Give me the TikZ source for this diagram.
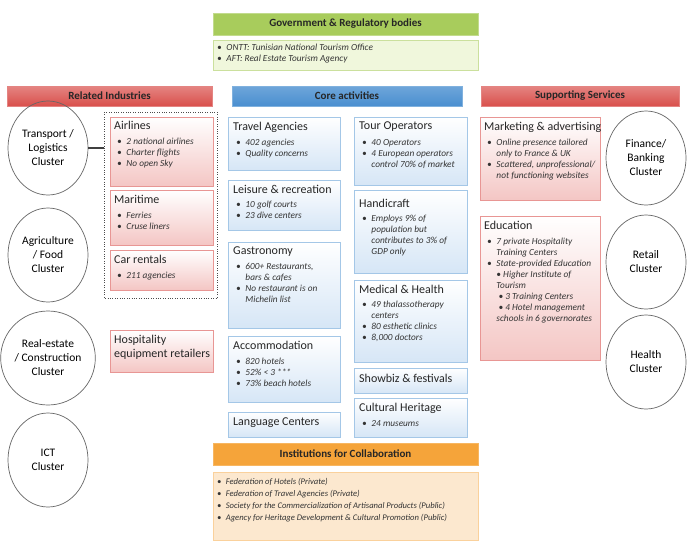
\documentclass[tikz,border=0pt]{standalone}
\usepackage{fontspec}
\setmainfont{Carlito}
\usetikzlibrary{positioning,shapes.geometric}
\definecolor{redh}{HTML}{D9504C}
\definecolor{redb}{HTML}{F4C6C4}
\definecolor{blueh}{HTML}{4A8FD0}
\definecolor{blueb}{HTML}{D6E6F6}
\definecolor{greenh}{HTML}{A8CC5C}
\definecolor{greenb}{HTML}{F0F7DC}
\definecolor{orangeh}{HTML}{F5A43A}
\definecolor{orangeb}{HTML}{FCE8CF}
\begin{document}
\begin{tikzpicture}[x=1pt,y=-1pt,
  hdr/.style={font=\bfseries\fontsize{11}{13}\selectfont, text=black!85},
  rbox/.style={draw=redh!60, top color=white, bottom color=redb, line width=0.6pt},
  bbox/.style={draw=blueh!50, top color=white, bottom color=blueb, line width=0.6pt},
  ttl/.style={anchor=north west, font=\fontsize{12}{13.5}\selectfont, text=black!85, align=left, inner sep=1pt},
  bl/.style={anchor=north west, font=\itshape\fontsize{9.3}{11}\selectfont, text=black!80, align=left, inner sep=1pt},
  clu/.style={draw=black!60, line width=0.7pt, ellipse, minimum width=80pt, minimum height=94pt, align=center, font=\fontsize{11.5}{14}\selectfont, inner sep=0pt}]
\useasboundingbox (0,0) rectangle (687,555);
\fill[white] (0,0) rectangle (687,555);
\newcommand{\bx}[5]{\draw[#1] (#2,#3) rectangle (#4,#5);}
% government
\bx{draw=greenh!70, fill=greenh} {213}{13}{478}{35}
\node[hdr] (gov) at (345.5,24) {Government \& Regulatory bodies};
\bx{draw=greenh!60, fill=greenb}{213}{40}{478}{70}
\node[bl] (govt) at (216,43) {•\enspace ONTT: Tunisian National Tourism Office\\•\enspace AFT: Real Estate Tourism Agency};
% headers
\bx{draw=redh!70, top color=redh!70, bottom color=redh}{7}{86}{212}{106}
\node[hdr] (ri) at (109.5,96) {Related Industries};
\bx{draw=blueh!70, top color=blueh!80, bottom color=blueh}{232}{86}{462}{106}
\node[hdr] (ca) at (347,96) {Core activities};
\bx{draw=redh!70, top color=redh!70, bottom color=redh}{481}{86}{679}{106}
\node[hdr] (ss) at (580,96) {Supporting Services};
% clusters
\node[clu] (c1) at (48,148) {Transport /\\Logistics\\Cluster};
\node[clu] (c2) at (48,255) {Agriculture\\/ Food\\Cluster};
\node[clu] (c3) at (48,358) {Real-estate\\/ Construction\\Cluster};
\node[clu] (c4) at (48,460) {ICT\\Cluster};
\node[clu] (c5) at (646,158) {Finance/\\Banking\\Cluster};
\node[clu] (c6) at (646,262) {Retail\\Cluster};
\node[clu] (c7) at (646,362) {Health\\Cluster};
% related industries
\draw[dotted, draw=black!70] (104,112) rectangle (217,298);
\coordinate (rb) at (104,148);
\draw[black!75, line width=2.2pt] (c1.east) -- (rb);
\bx{rbox}{110}{117}{213}{186}
\node[ttl] (t1) at (113,120) {Airlines};
\node[bl] at (116,137) {•\enspace 2 national airlines\\•\enspace Charter flights\\•\enspace No open Sky};
\bx{rbox}{110}{190}{213}{245}
\node[ttl] (t2) at (113,194) {Maritime};
\node[bl] at (116,211) {•\enspace Ferries\\•\enspace Cruse liners};
\bx{rbox}{110}{250}{213}{290}
\node[ttl] (t3) at (113,254) {Car rentals};
\node[bl] at (116,271) {•\enspace 211 agencies};
\bx{rbox}{110}{330}{213}{372}
\node[ttl] (t4) at (113,334) {Hospitality\\equipment retailers};
% core left
\bx{bbox}{228}{117}{340}{170}
\node[ttl] at (232,121) {Travel Agencies};
\node[bl] at (235,138) {•\enspace 402 agencies\\•\enspace Quality concerns};
\bx{bbox}{228}{180}{340}{230}
\node[ttl] at (232,184) {Leisure \& recreation};
\node[bl] at (235,200) {•\enspace 10 golf courts\\•\enspace 23 dive centers};
\bx{bbox}{228}{242}{340}{328}
\node[ttl] at (232,246) {Gastronomy};
\node[bl] at (235,262) {•\enspace 600+ Restaurants,\\\phantom{•}\enspace bars \& cafes\\•\enspace No restaurant is on\\\phantom{•}\enspace Michelin list};
\bx{bbox}{228}{336}{340}{402}
\node[ttl] at (232,340) {Accommodation};
\node[bl] at (235,357) {•\enspace 820 hotels\\•\enspace 52\% < 3 ***\\•\enspace 73\% beach hotels};
\bx{bbox}{228}{412}{340}{437}
\node[ttl] at (232,417) {Language Centers};
% core right
\bx{bbox}{354}{117}{467}{185}
\node[ttl] at (358,121) {Tour Operators};
\node[bl] at (361,138) {•\enspace 40 Operators\\•\enspace 4 European operators\\\phantom{•}\enspace control\ 70\% of market};
\bx{bbox}{354}{190}{467}{273}
\node[ttl] at (358,198) {Handicraft};
\node[bl] at (361,214) {•\enspace Employs 9\% of\\\phantom{•}\enspace population but\\\phantom{•}\enspace contributes to 3\% of\\\phantom{•}\enspace GDP only};
\bx{bbox}{354}{280}{467}{362}
\node[ttl] at (358,284) {Medical \& Health};
\node[bl] at (361,300) {•\enspace 49 thalassotherapy\\\phantom{•}\enspace centers\\•\enspace 80 esthetic clinics\\•\enspace 8,000 doctors};
\bx{bbox}{354}{368}{467}{393}
\node[ttl] at (358,373) {Showbiz \& festivals};
\bx{bbox}{354}{398}{467}{437}
\node[ttl] at (358,402) {Cultural Heritage};
\node[bl] at (361,419) {•\enspace 24 museums};
% supporting
\bx{rbox}{480}{117}{600}{200}
\node[ttl] at (483,121) {Marketing \& advertising};
\node[bl] at (486,138) {•\enspace Online presence tailored\\\phantom{•}\enspace only to France \& UK\\•\enspace Scattered, unprofessional/\\\phantom{•}\enspace not functioning websites};
\bx{rbox}{480}{216}{600}{360}
\node[ttl] at (483,220) {Education};
\node[bl] at (486,237) {•\enspace 7 private Hospitality\\\phantom{•}\enspace Training Centers\\•\enspace State-provided Education\\\phantom{•}\enspace • Higher Institute of\\\phantom{•}\enspace Tourism\\\phantom{•}\enspace \ • 3 Training Centers\\\phantom{•}\enspace \ • 4 Hotel management\\\phantom{•}\enspace schools in 6 governorates};
% institutions
\bx{draw=orangeh!80, fill=orangeh}{213}{443}{478}{465}
\node[hdr] (inst) at (345.5,454) {Institutions for Collaboration};
\bx{draw=orangeh!50, fill=orangeb}{213}{472}{478}{540}
\node[bl, font=\itshape\fontsize{8.6}{12}\selectfont] (instt) at (216,477) {•\enspace Federation of Hotels (Private)\\•\enspace Federation of Travel Agencies (Private)\\•\enspace Society for the Commercialization of Artisanal Products (Public)\\•\enspace Agency for Heritage Development \& Cultural Promotion (Public)};
\end{tikzpicture}
\end{document}
